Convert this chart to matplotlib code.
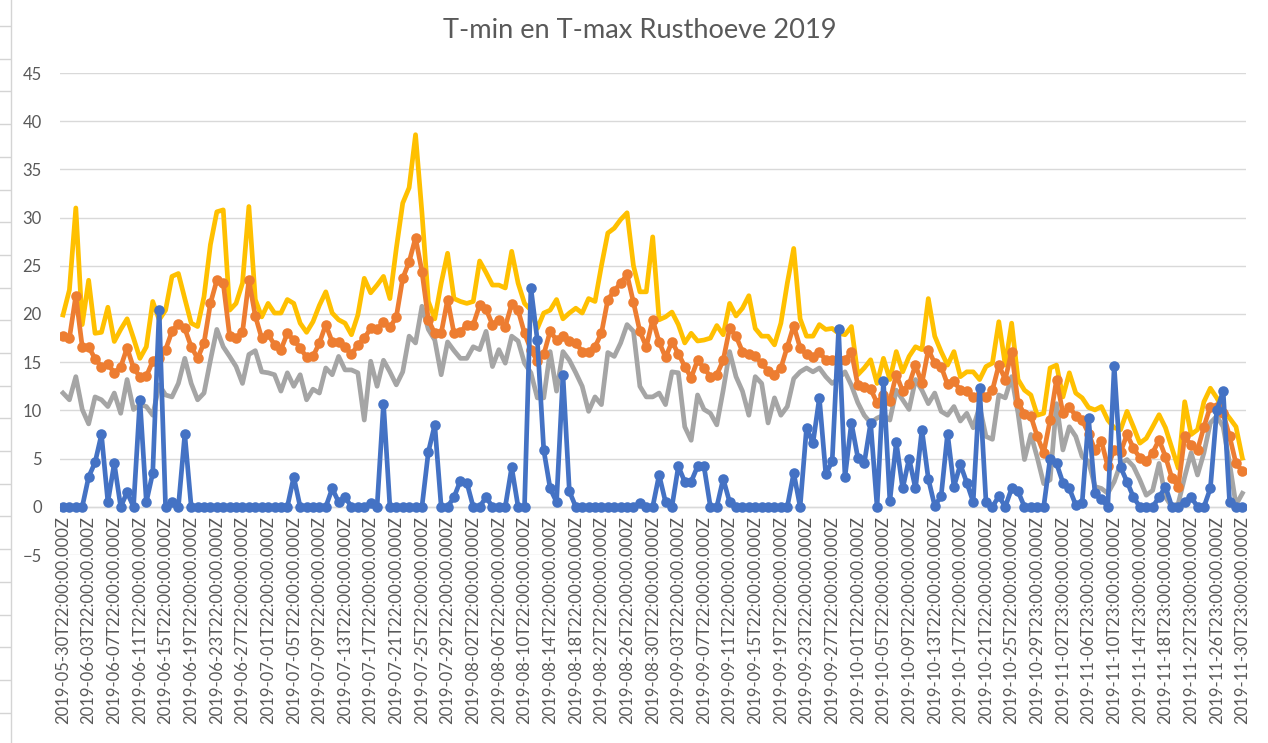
import matplotlib
matplotlib.use('Agg')
import matplotlib.pyplot as plt
from matplotlib.lines import Line2D
import pandas as pd

# Categories: local midnights (Europe/Amsterdam) written as UTC timestamps
days = pd.date_range('2019-05-31', '2019-12-01', freq='D', tz='Europe/Amsterdam').tz_convert('UTC')
categories = [d.strftime('%Y-%m-%dT%H:%M:%S.000Z') for d in days]

blue = [0, 0, 0, 0, 3.1, 4.6, 7.5, 0.5, 4.5, 0, 1.5, 0, 11.1, 0.5, 3.5, 20.4, 0, 0.5, 0, 7.5,
        0, 0, 0, 0, 0, 0, 0, 0, 0, 0, 0, 0, 0, 0, 0, 0, 3.1, 0, 0, 0,
        0, 0, 1.9, 0.5, 1.0, 0, 0, 0, 0.4, 0, 10.7, 0, 0, 0, 0, 0, 0, 5.7, 8.5, 0,
        0, 1.0, 2.7, 2.5, 0, 0, 1.0, 0, 0, 0, 4.1, 0, 0, 22.7, 17.3, 5.9, 1.9, 0.5, 13.7, 1.6,
        0, 0, 0, 0, 0, 0, 0, 0, 0, 0, 0.4, 0, 0, 3.3, 0.5, 0, 4.2, 2.6, 2.6, 4.2,
        4.2, 0, 0, 2.9, 0.5, 0, 0, 0, 0, 0, 0, 0, 0, 0, 3.5, 0, 8.2, 6.6, 11.3, 3.4,
        4.7, 18.4, 3.1, 8.7, 5.1, 4.5, 8.7, 0, 13.0, 0.6, 6.7, 1.9, 5.0, 1.9, 8.0, 2.9, 0.1, 1.1, 7.6, 2.1,
        4.4, 2.5, 0.5, 12.3, 0.5, 0, 1.1, 0, 1.9, 1.6, 0, 0, 0, 0, 5.0, 4.5, 2.5, 1.9, 0.2, 0.4,
        9.2, 1.4, 0.8, 0, 14.6, 4.1, 2.6, 1.0, 0, 0, 0, 1.0, 2.1, 0, 0, 0.5, 1.0, 0, 0, 1.9,
        10.0, 12.0, 0.5, 0, 0]

orange = [17.7, 17.5, 21.9, 16.6, 16.6, 15.35, 14.55, 14.8, 13.9, 14.5, 16.5, 14.4, 13.5, 13.55, 15.1, 15.4, 16.3, 18.2, 19.0, 18.5,
          16.6, 15.4, 17.0, 21.1, 23.5, 23.2, 17.7, 17.5, 18.1, 23.5, 19.8, 17.5, 17.9, 16.8, 16.3, 18.0, 17.3, 16.5, 15.5, 15.6,
          17.0, 18.9, 17.1, 17.05, 16.6, 15.8, 16.8, 17.5, 18.5, 18.4, 19.2, 18.6, 19.7, 23.7, 25.4, 27.9, 24.4, 19.4, 18.0, 18.0,
          21.5, 18.0, 18.1, 18.9, 18.9, 20.9, 20.5, 18.9, 19.4, 18.7, 21.0, 20.4, 18.0, 16.3, 15.1, 15.8, 18.2, 17.3, 17.7, 17.2,
          17.0, 16.1, 16.1, 16.6, 18.0, 21.5, 22.4, 23.2, 24.1, 21.2, 18.2, 16.6, 19.4, 17.1, 15.5, 17.1, 15.9, 14.55, 13.4, 15.2,
          14.4, 13.5, 13.7, 15.2, 18.5, 17.7, 16.1, 15.8, 15.6, 14.9, 14.1, 13.7, 14.4, 16.6, 18.8, 16.5, 15.8, 15.5, 16.1, 15.2,
          15.2, 15.2, 15.2, 16.1, 12.6, 12.4, 12.2, 10.8, 11.6, 11.0, 13.7, 12.0, 12.7, 14.7, 12.8, 16.3, 14.9, 14.55, 12.7, 13.0,
          12.1, 12.0, 11.4, 11.6, 11.4, 12.1, 14.7, 13.2, 16.1, 10.8, 9.6, 9.4, 7.3, 5.6, 9.0, 13.2, 9.7, 10.4, 9.4, 9.0,
          7.6, 5.9, 6.8, 4.2, 5.9, 5.7, 7.5, 6.1, 5.05, 4.7, 5.6, 6.95, 5.2, 3.0, 2.1, 7.3, 6.4, 5.9, 8.3, 10.4,
          10.4, 9.7, 7.3, 4.5, 3.7]

gray = [11.8, 11.1, 13.5, 10.1, 8.6, 11.4, 11.1, 10.4, 11.8, 9.7, 13.2, 10.1, 10.6, 10.4, 9.5, 12.65, 11.6, 11.4, 12.8, 15.4,
        12.8, 11.1, 11.8, 15.2, 18.4, 16.6, 15.6, 14.55, 12.8, 15.8, 16.2, 14.0, 13.9, 13.7, 12.0, 13.9, 12.5, 13.7, 11.1, 12.2,
        11.8, 14.4, 13.7, 15.6, 14.2, 14.2, 13.9, 9.0, 15.1, 12.5, 15.2, 14.0, 12.65, 14.0, 17.7, 17.0, 20.8, 18.4, 17.3, 13.7,
        17.1, 16.2, 15.4, 15.4, 16.6, 16.3, 18.2, 14.55, 16.3, 14.9, 17.7, 17.2, 14.9, 13.9, 11.3, 11.3, 16.1, 12.0, 16.1, 15.2,
        13.9, 12.5, 9.9, 11.4, 10.6, 16.0, 15.6, 17.0, 18.9, 18.2, 12.5, 11.4, 11.4, 11.8, 10.6, 14.0, 13.9, 8.3, 6.9, 11.6,
        10.1, 9.7, 8.5, 12.1, 16.1, 13.5, 12.0, 9.5, 13.5, 12.8, 8.7, 11.3, 9.5, 10.4, 13.3, 14.0, 14.4, 14.0, 14.4, 13.5,
        12.8, 13.3, 14.0, 12.6, 10.8, 9.5, 8.7, 9.2, 9.5, 9.0, 12.1, 11.1, 10.1, 13.2, 12.1, 10.7, 11.8, 9.9, 9.5, 10.4,
        8.9, 9.7, 8.2, 10.4, 7.3, 7.0, 11.6, 11.3, 13.5, 9.7, 4.9, 7.5, 5.1, 2.4, 2.8, 10.7, 5.9, 8.3, 7.3, 5.2,
        4.7, 2.1, 1.9, 1.4, 2.6, 4.5, 4.9, 4.2, 2.8, 1.2, 1.7, 4.5, 1.0, 0, 0.35, 3.1, 5.6, 3.3, 5.6, 8.7,
        9.4, 8.3, 4.5, 0.2, 1.4]

yellow = [19.9, 22.5, 31.0, 18.9, 23.5, 18.0, 18.1, 20.7, 17.15, 18.4, 19.5, 17.5, 15.4, 16.6, 21.3, 19.4, 20.4, 23.9, 24.2, 21.6,
          19.05, 18.7, 21.8, 27.2, 30.6, 30.8, 20.4, 21.1, 23.2, 31.15, 21.5, 19.7, 21.1, 20.1, 20.1, 21.5, 21.1, 19.05, 18.1, 19.2,
          20.9, 22.3, 20.1, 19.4, 19.05, 17.85, 19.9, 23.7, 22.2, 23.0, 23.9, 21.6, 26.8, 31.5, 33.1, 38.6, 30.5, 21.3, 19.5, 23.2,
          26.3, 21.6, 21.3, 21.1, 21.3, 25.5, 24.3, 23.0, 23.0, 22.7, 26.5, 23.2, 21.1, 20.4, 18.5, 20.1, 20.4, 21.5, 19.5, 20.1,
          20.6, 20.1, 21.6, 21.3, 25.0, 28.4, 28.9, 29.8, 30.5, 25.0, 22.3, 22.3, 28.0, 19.4, 19.7, 20.2, 18.9, 17.0, 18.0, 17.2,
          17.3, 17.5, 18.8, 17.85, 21.1, 19.8, 20.6, 21.9, 18.5, 17.7, 17.7, 16.8, 19.05, 23.2, 26.8, 19.5, 17.7, 17.7, 18.9, 18.4,
          18.5, 18.0, 17.85, 18.7, 13.7, 14.4, 15.25, 12.8, 15.4, 13.2, 16.1, 14.0, 15.6, 16.6, 16.3, 21.6, 17.7, 16.1, 14.7, 16.1,
          13.5, 14.0, 14.0, 13.2, 14.55, 14.9, 19.2, 14.7, 19.05, 13.2, 12.1, 11.6, 9.5, 9.7, 14.4, 14.7, 11.4, 13.9, 11.8, 11.3,
          10.3, 10.05, 10.4, 9.0, 8.2, 8.0, 9.9, 8.3, 6.6, 7.1, 8.3, 9.55, 8.2, 6.1, 4.0, 10.9, 7.5, 8.0, 10.9, 12.3,
          11.3, 10.05, 9.2, 8.3, 5.05]

title = 'T-min en T-max Rusthoeve 2019'
y_ticks = [-5, 0, 5, 10, 15, 20, 25, 30, 35, 40, 45]

FONT = ['Lato', 'DejaVu Sans']
plt.rcParams['font.family'] = FONT
TXT = '#595959'
GRID = '#D9D9D9'

W, H = 1268, 743
fig = plt.figure(figsize=(W / 100, H / 100), dpi=100)
fig.patch.set_facecolor('white')

x0, x1, ytop, ybot = 59.8, 1245.6, 73, 555
ax = fig.add_axes([x0 / W, 1 - ybot / H, (x1 - x0) / W, (ybot - ytop) / H])

xs = list(range(len(categories)))
LW = 3.4
MS = 7.6
ax.plot(xs, gray, color='#A5A5A5', lw=LW, solid_joinstyle='round', zorder=3)
ax.plot(xs, yellow, color='#FFC000', lw=LW, solid_joinstyle='round', zorder=4)
ax.plot(xs, orange, color='#ED7D31', lw=LW, marker='o', markersize=MS,
        markeredgewidth=0, solid_joinstyle='round', zorder=5)
ax.plot(xs, blue, color='#4472C4', lw=LW, marker='o', markersize=MS,
        markeredgewidth=0, solid_joinstyle='round', zorder=6)

ax.set_xlim(-0.5, len(categories) - 0.5)
ax.set_ylim(-5, 45)
ax.set_yticks(y_ticks)
ax.yaxis.grid(True, color=GRID, lw=1.0, zorder=0)
ax.set_axisbelow(True)
for s in ['top', 'right', 'left']:
    ax.spines[s].set_visible(False)
ax.spines['bottom'].set_position(('data', 0))
ax.spines['bottom'].set_color(GRID)
ax.spines['bottom'].set_linewidth(1.0)

tick_pos = xs[::4]
ax.set_xticks(tick_pos)
ax.set_xticklabels([categories[i] for i in tick_pos], rotation=90, fontsize=12, color=TXT)
ax.tick_params(axis='x', length=0, pad=7)
ax.tick_params(axis='y', length=0, pad=13, labelsize=12, labelcolor=TXT)

fig.text(640 / W, 1 - 30 / H, title, ha='center', va='center', fontsize=19.6, color=TXT)

# spreadsheet frame remnants on the left edge
fig.add_artist(Line2D([10.5 / W, 10.5 / W], [0, 1], color='#D4D4D4', lw=1.0))
yy = 26
while yy < H:
    fig.add_artist(Line2D([0, 10 / W], [1 - yy / H, 1 - yy / H], color='#D4D4D4', lw=1.0))
    yy += 32.7

fig.savefig('out.png', dpi=100)
